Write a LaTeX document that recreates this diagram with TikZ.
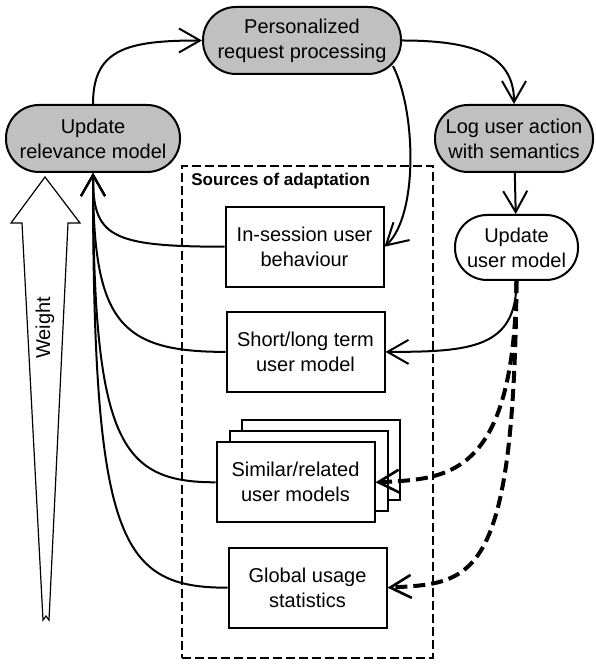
\documentclass[tikz,border=0pt]{standalone}
\usepackage{fontspec}
\setmainfont{Liberation Sans}
\usepackage{tikz}
\usetikzlibrary{arrows.meta, positioning, calc, backgrounds}
\definecolor{actcolor}{RGB}{192,192,192}
\tikzset{
  activity/.style={draw, rounded corners=16.5pt, minimum height=33.5pt,
                   fill=#1, line width=1pt, align=center,
                   font=\fontsize{10}{12.5}\selectfont},
  activity/.default=actcolor,
  srcbox/.style={draw, fill=white, line width=1pt, minimum width=79pt,
                 minimum height=40pt, align=center,
                 font=\fontsize{10}{12.5}\selectfont},
  srcframe/.style={draw, line width=1pt, dash pattern=on 4.5pt off 2pt},
  srctitle/.style={font=\fontsize{8.5}{10}\selectfont\bfseries, inner sep=0pt},
  arrow/.style={-{Straight Barb[length=10.5pt, width=12pt]}, line width=1pt},
  dasharrow/.style={-{Straight Barb[length=10.5pt, width=11.5pt, line width=1.3pt]},
                    line width=2pt, dash pattern=on 6pt off 3pt},
  weightarrow/.style={draw, line width=0.6pt, line join=miter},
}

\begin{document}
\begin{tikzpicture}[x=0.5pt, y=-0.5pt]
  \useasboundingbox (0,0) rectangle (595,667);

  % --- Process cycle ---
  \node[activity, minimum width=99pt] (pers) at (302,40.5)
    {Personalized\\request processing};
  \node[activity, minimum width=87pt] (rel) at (93,138.5)
    {Update\\relevance model};
  \node[activity, minimum width=79pt] (logn) at (514,138.5)
    {Log user action\\with semantics};
  \node[activity=white, minimum width=61.5pt, minimum height=32.5pt,
        rounded corners=16pt, below=20.5pt of logn, xshift=1.25pt]
    (upd) {Update\\user model};

  % --- Sources of adaptation ---
  \node[srcframe, minimum width=125.5pt, minimum height=246pt]
    (sources) at (307.5,412) {};
  \node[srctitle, anchor=west] (srclabel)
    at ([shift={(10,16)}]sources.north west) {Sources of adaptation};

  \node[srcbox] (insession) at (304.5,246.7) {In-session user\\behaviour};
  \node[srcbox, below=11.6pt of insession, xshift=0.5pt]
    (shortlong) {Short/long term\\user model};
  \node[srcbox, below=24.2pt of shortlong, xshift=-5pt]
    (similar) {Similar/related\\user models};
  \node[srcbox, below=11.7pt of similar, xshift=6pt]
    (global) {Global usage\\statistics};

  \begin{scope}[on background layer]
    \node[srcbox] (simback2) at ([shift={(25.5,-22.5)}]similar) {};
    \node[srcbox] (simback1) at ([shift={(13.5,-11)}]similar) {};
  \end{scope}

  % --- Weight ---
  \draw[weightarrow] (45,177) -- (80,223) -- (68,223) -- (49,620)
    -- (46,616) -- (43,620) -- (22,223) -- (11,223) -- cycle;
  \node[rotate=90, font=\fontsize{10}{12.5}\selectfont] (weight)
    at (45,328) {Weight};

  % --- Arrows ---
  \draw[arrow] (rel.north) .. controls +(0,-55) and +(-75,0) .. (pers.west);
  \draw[arrow] (pers.east) .. controls +(70,0) and +(0,-50) .. (logn.north);
  \draw[arrow] ([shift={(-9,-9)}]pers.south east)
    .. controls +(23,45) and +(34,-31) .. (insession.east);
  \draw[arrow] (logn) -- (upd);
  \draw[arrow] (upd.south) .. controls +(0,67) and +(86,0) .. (shortlong.east);

  \draw[dasharrow] (upd.south) .. controls (514,479) and (447,479) .. (similar.east);
  \draw[dasharrow] (upd.south) .. controls (514,583) and (473,583) .. (global.east);

  \draw[arrow] (insession.west) .. controls +(-116,0) and +(0,63) .. (rel.south);
  \draw[arrow] (shortlong.west) .. controls +(-107,0) and +(0,148) .. (rel.south);
  \draw[arrow] (similar.west) .. controls +(-96,0) and +(0,268) .. (rel.south);
  \draw[arrow] (global.west) .. controls +(-108,0) and +(0,368) .. (rel.south);

\end{tikzpicture}
\end{document}
